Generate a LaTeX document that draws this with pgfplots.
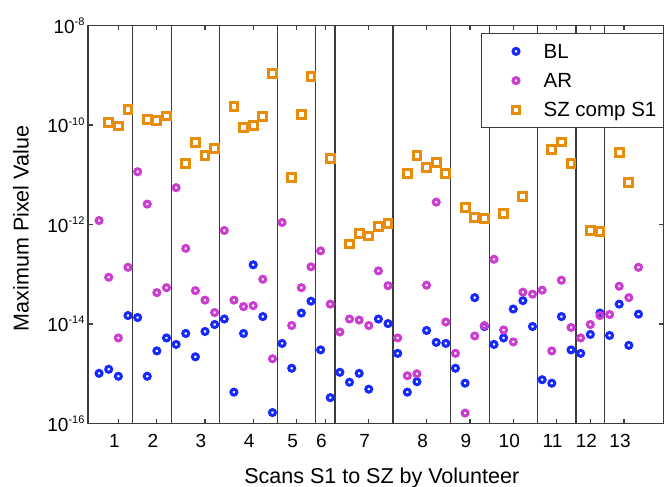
\documentclass[border=0pt]{standalone}
\usepackage{pgfplots}
\pgfplotsset{compat=1.18}
\usepackage{fontspec}
\setmainfont{Liberation Sans}
\definecolor{blmark}{RGB}{20,40,255}
\definecolor{armark}{RGB}{205,60,210}
\definecolor{szmark}{RGB}{232,140,10}
\definecolor{axgray}{RGB}{60,60,60}
\newcommand\tenexp[1]{10\raisebox{7.5pt}{\fontsize{11}{11}\selectfont #1}}

\pgfplotstableread{
k BL AR
1 1.02e-15 1.20e-12
2 1.23e-15 8.71e-14
3 8.91e-16 5.25e-15
4 1.48e-14 1.38e-13
5 1.35e-14 1.15e-11
6 8.91e-16 2.57e-12
7 2.88e-15 4.27e-14
8 5.25e-15 5.37e-14
9 3.89e-15 5.50e-12
10 6.46e-15 3.31e-13
11 2.19e-15 4.68e-14
12 7.08e-15 3.02e-14
13 9.77e-15 1.70e-14
14 1.26e-14 7.59e-13
15 4.27e-16 3.02e-14
16 6.46e-15 2.24e-14
17 1.55e-13 2.34e-14
18 1.41e-14 7.94e-14
19 1.66e-16 2.00e-15
20 4.07e-15 1.10e-12
21 1.29e-15 9.33e-15
22 1.66e-14 5.37e-14
23 2.88e-14 1.41e-13
24 3.02e-15 2.95e-13
25 3.31e-16 2.51e-14
26 1.07e-15 6.92e-15
27 6.76e-16 1.26e-14
28 1.02e-15 1.20e-14
29 4.90e-16 9.33e-15
30 1.26e-14 1.17e-13
31 1.02e-14 5.89e-14
32 2.57e-15 5.25e-15
33 4.27e-16 9.12e-16
34 6.92e-16 1.00e-15
35 7.41e-15 6.03e-14
36 4.27e-15 2.82e-12
37 4.07e-15 1.10e-14
38 1.29e-15 2.57e-15
39 6.46e-16 1.62e-16
40 3.39e-14 5.75e-15
41 8.91e-15 9.33e-15
42 3.89e-15 2.00e-13
43 5.25e-15 7.59e-15
44 2.00e-14 4.37e-15
45 2.95e-14 4.37e-14
46 8.91e-15 3.98e-14
47 7.59e-16 4.79e-14
48 6.46e-16 2.88e-15
49 1.41e-14 7.59e-14
50 3.02e-15 8.51e-15
51 2.57e-15 5.25e-15
52 6.17e-15 9.77e-15
53 1.66e-14 1.48e-14
54 5.89e-15 1.55e-14
55 2.51e-14 5.75e-14
56 3.72e-15 3.39e-14
57 1.58e-14 1.38e-13
}\tblA

\pgfplotstableread{
k SZ
2 1.13e-10
3 9.55e-11
4 2.07e-10
6 1.30e-10
7 1.22e-10
8 1.52e-10
10 1.70e-11
11 4.47e-11
12 2.40e-11
13 3.31e-11
15 2.33e-10
16 8.91e-11
17 9.77e-11
18 1.48e-10
19 1.07e-9
21 8.71e-12
22 1.62e-10
23 9.33e-10
25 2.09e-11
27 4.07e-13
28 6.61e-13
29 5.89e-13
30 9.12e-13
31 1.05e-12
33 1.05e-11
34 2.40e-11
35 1.41e-11
36 1.74e-11
37 1.05e-11
39 2.19e-12
40 1.38e-12
41 1.32e-12
43 1.66e-12
45 3.63e-12
48 3.16e-11
49 4.57e-11
50 1.70e-11
52 7.59e-13
53 7.24e-13
55 2.82e-11
56 6.92e-12
}\tblSZ

\begin{document}
\begin{tikzpicture}
\begin{axis}[
  scale only axis, width=576pt, height=398pt,
  ymode=log, ymin=1e-16, ymax=1e-8,
  xmin=-0.15, xmax=59.65,
  ytick={1e-16,1e-14,1e-12,1e-10,1e-8},
  yticklabels={\tenexp{-16},\tenexp{-14},\tenexp{-12},\tenexp{-10},\tenexp{-8}},
  xtick={3,7,12,17,21.5,24.5,29,35,39.5,44,48.5,52,55.5},
  xticklabels={1,2,3,4,5,6,7,8,9,10,11,12,13},
  xminorticks=false, yminorticks=false,
  tick align=inside,
  major tick length=5pt,
  axis line style={draw=axgray, line width=1.4pt},
  every tick/.style={draw=axgray, line width=1.2pt},
  ticklabel style={font=\fontsize{19}{19}\selectfont},
  xticklabel style={xshift=-4pt, yshift=-7pt},
  extra x ticks={4.5,8.5,13.5,19.5,23.5,25.5,31.5,37.5,41.5,46.5,50.5,53.5},
  extra x tick labels={},
  extra x tick style={grid=major, major tick length=0pt},
  major grid style={draw=axgray, line width=1.3pt},
  xlabel={Scans S1 to SZ by Volunteer},
  ylabel={Maximum Pixel Value},
  label style={font=\fontsize{21.5}{21.5}\selectfont},
  xlabel style={at={(axis description cs:0.51,-0.1508)}, anchor=base},
  ylabel style={at={(axis description cs:-0.103,0.49)}, anchor=base},
  legend style={
    at={(axis description cs:1,0.981)}, anchor=north east,
    draw=axgray, line width=1.2pt, fill=white,
    font=\fontsize{20.5}{20.5}\selectfont,
    inner xsep=7pt, inner ysep=5.7pt,
    nodes={inner sep=0pt, text height=19pt, text depth=5pt},
    cells={anchor=west},
    row sep=5.3pt,
    /tikz/every odd column/.style={column sep=15pt},
  },
  legend image code/.code={
    \path (-27pt,0pt) (12pt,0pt);
    \draw[mark repeat=2,mark phase=2] plot coordinates {(-1pt,0pt)(0pt,0pt)(1pt,0pt)};
  },
]
\addplot[only marks, mark=o, mark size=3pt, mark options={draw=blmark, line width=3pt}] table[x=k, y=BL] {\tblA};
\addlegendentry{BL}
\addplot[only marks, mark=o, mark size=3pt, mark options={draw=armark, line width=3pt}] table[x=k, y=AR] {\tblA};
\addlegendentry{AR}
\addplot[only marks, mark=square, mark size=3.9pt, mark options={draw=szmark, line width=3pt}] table[x=k, y=SZ] {\tblSZ};
\addlegendentry{SZ comp S1}
\end{axis}
\pgfresetboundingbox
\path[use as bounding box] ([xshift=-88pt,yshift=-63.5pt]current axis.south west) rectangle ([yshift=25.5pt]current axis.north east);
\end{tikzpicture}
\end{document}
